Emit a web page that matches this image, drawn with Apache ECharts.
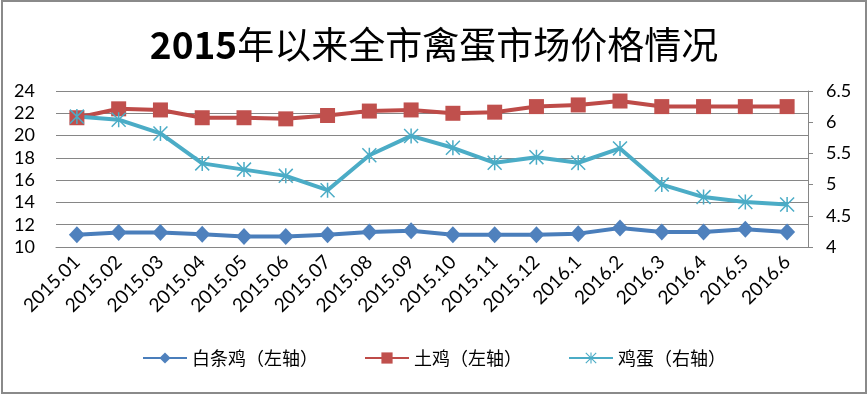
<!DOCTYPE html>
<html>
<head>
<meta charset="utf-8">
<script src="https://cdn.jsdelivr.net/npm/echarts@6/dist/echarts.min.js"></script>
<style>
html,body{margin:0;padding:0;background:#fff;}
#chart{width:868px;height:394px;}
</style>
</head>
<body>
<div id="chart"></div>
<script>
var categories = ['2015.01','2015.02','2015.03','2015.04','2015.05','2015.06','2015.07','2015.08','2015.09','2015.10','2015.11','2015.12','2016.1','2016.2','2016.3','2016.4','2016.5','2016.6'];
var broiler = [11.1,11.3,11.3,11.15,10.95,10.95,11.1,11.35,11.45,11.1,11.1,11.1,11.2,11.7,11.35,11.35,11.6,11.35];
var localChicken = [21.6,22.4,22.3,21.6,21.6,21.5,21.8,22.2,22.3,22.0,22.1,22.6,22.75,23.1,22.6,22.6,22.6,22.6];
var eggs = [6.09,6.04,5.82,5.34,5.24,5.14,4.91,5.47,5.78,5.59,5.35,5.44,5.35,5.58,5.0,4.8,4.72,4.68];
var seriesNames = ['白条鸡（左轴）','土鸡（左轴）','鸡蛋（右轴）'];
var leftTicks = {min:10, max:24, interval:2};
var rightTicks = {min:4, max:6.5, interval:0.5};
var titleText = ['2015','年以来全市禽蛋市场价格情况'];

var starPath = 'path://M9 0 L11 0 L11 20 L9 20 Z M0 1.4 L1.4 0 L20 18.6 L18.6 20 Z M18.6 0 L20 1.4 L1.4 20 L0 18.6 Z';
var LAT = 'Lato, "Noto Sans", sans-serif';
var CJK = '"Noto Sans CJK SC", sans-serif';

var chart = echarts.init(document.getElementById('chart'), null, {renderer:'canvas'});
chart.setOption({
  animation:false,
  backgroundColor:'#ffffff',
  graphic:[{type:'rect', shape:{x:2,y:1,width:864,height:392}, style:{fill:'none', stroke:'#8a8a8a', lineWidth:2}, silent:true}],
  title:{
    text:'{a|' + titleText[0] + '}{b|' + titleText[1] + '}',
    left:'center', top:21,
    textStyle:{rich:{
      a:{fontFamily:CJK, fontSize:37, fontWeight:'bold', color:'#000'},
      b:{fontFamily:CJK, fontSize:37, fontWeight:'normal', color:'#000'}
    }}
  },
  legend:{
    data:seriesNames, left:'center', top:344, itemWidth:44, itemHeight:14, itemGap:46,
    textStyle:{fontFamily:CJK, fontSize:18, color:'#000', padding:[0,0,0,0]}
  },
  grid:{left:56, right:60, top:91, bottom:147, containLabel:false},
  xAxis:{
    type:'category', data:categories, boundaryGap:true,
    axisLine:{show:true, lineStyle:{color:'#868686', width:1}},
    axisTick:{show:false},
    axisLabel:{rotate:45, interval:0, margin:12, fontFamily:LAT, fontSize:19, color:'#000'}
  },
  yAxis:[{
    type:'value', position:'left', min:leftTicks.min, max:leftTicks.max, interval:leftTicks.interval,
    axisLine:{show:false}, axisTick:{show:false},
    splitLine:{show:true, lineStyle:{color:'#868686', width:1}},
    axisLabel:{margin:21, fontFamily:LAT, fontSize:18, color:'#000'}
  },{
    type:'value', position:'right', min:rightTicks.min, max:rightTicks.max, interval:rightTicks.interval,
    axisLine:{show:true, lineStyle:{color:'#868686', width:1}},
    axisTick:{show:true, inside:false, length:5, lineStyle:{color:'#868686'}},
    splitLine:{show:false},
    axisLabel:{margin:18, fontFamily:LAT, fontSize:18, color:'#000'}
  }],
  series:[{
    name:seriesNames[0], type:'line', yAxisIndex:0, data:broiler,
    symbol:'diamond', symbolSize:[16,17], showAllSymbol:true,
    lineStyle:{color:'#4A7EBB', width:4}, itemStyle:{color:'#4F81BD', borderWidth:0}
  },{
    name:seriesNames[1], type:'line', yAxisIndex:0, data:localChicken,
    symbol:'rect', symbolSize:15, showAllSymbol:true,
    lineStyle:{color:'#BE4B48', width:4}, itemStyle:{color:'#C0504D', borderWidth:0}
  },{
    name:seriesNames[2], type:'line', yAxisIndex:1, data:eggs,
    symbol:starPath, symbolSize:15, showAllSymbol:true,
    lineStyle:{color:'#4BACC6', width:4}, itemStyle:{color:'#4BACC6', borderWidth:0}
  }]
});
</script>
</body>
</html>
